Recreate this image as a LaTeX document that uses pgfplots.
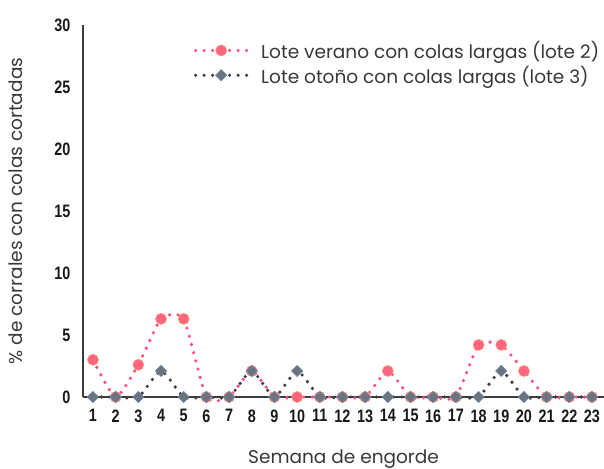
\documentclass[border=0pt]{standalone}
\usepackage{pgfplots}
\pgfplotsset{compat=1.18}
\usepackage{fontspec}
\setmainfont{Poppins}
\newfontfamily\tickfont[FakeStretch=0.8]{Liberation Sans}
\definecolor{pinkl}{HTML}{FF4F7B}
\definecolor{pinkm}{HTML}{FF6480}
\definecolor{pinke}{HTML}{F59A6A}
\definecolor{grayl}{HTML}{404040}
\definecolor{graym}{HTML}{6E747C}
\definecolor{graye}{HTML}{5A86C0}
\definecolor{axc}{HTML}{3C3C3C}
\begin{document}
\begin{tikzpicture}
\useasboundingbox (-83pt,-71pt) rectangle (521pt,397pt);
\begin{axis}[
  scale only axis,
  width=521pt, height=372pt,
  xmin=0.56, xmax=23.53,
  ymin=0, ymax=30,
  axis x line*=bottom, axis y line*=left,
  axis line style={axc, line width=1.6pt, -},
  xtick={1,...,23}, ytick={0,5,...,30},
  major tick length=0pt,
  tick label style={font=\tickfont\bfseries\fontsize{18}{18}\selectfont, text=black!90},
  /pgf/number format/assume math mode=true,
  yticklabel style={xshift=-9pt},
  xticklabel style={yshift=-9pt},
  xlabel={Semana de engorde},
  ylabel={\% de corrales con colas cortadas},
  label style={font=\fontsize{18.5}{19}\selectfont, text=black!78},
  xlabel style={at={(axis description cs:0.5,0)}, anchor=base, yshift=-66pt},
  ylabel style={at={(axis description cs:0,0.5)}, anchor=base, xshift=0pt, yshift=60pt},
  legend style={draw=none, fill=none, at={(0.993,0.96)}, anchor=north east,
    font=\fontsize{18.5}{19}\selectfont, text=black!78, row sep=4pt, column sep=11pt,
    inner sep=0pt, nodes={inner sep=1pt}},
  legend cell align=left,
  legend image code/.code={
    \draw[#1, mark=none] (0cm,0cm) -- (1.82cm,0cm);
    \draw[#1, dash pattern={}, only marks] plot coordinates {(0.9cm,0cm)};
  },
  clip=false,
]
\addplot[pinkl, line width=3.6pt, line cap=round, dash pattern=on 0pt off 8.5pt,
  smooth, tension=0.35,
  mark=*, mark size=5.5pt, mark options={solid, fill=pinkm, draw=pinke, line width=0.6pt}]
coordinates {
(1,3.0) (2,0) (3,2.6) (4,6.3) (5,6.3) (6,0) (7,0) (8,2.1) (9,0) (10,0) (11,0) (12,0)
(13,0) (14,2.1) (15,0) (16,0) (17,0) (18,4.2) (19,4.2) (20,2.1) (21,0) (22,0) (23,0)
};
\addlegendentry{Lote verano con colas largas (lote 2)}
\addplot[grayl, line width=3.6pt, line cap=round, dash pattern=on 0pt off 8.5pt,
  smooth, tension=0.35,
  mark=square*, mark size=4pt, mark options={solid, rotate=45, fill=graym, draw=graye, line width=0.5pt}]
coordinates {
(1,0) (2,0) (3,0) (4,2.1) (5,0) (6,0) (7,0) (8,2.1) (9,0) (10,2.1) (11,0) (12,0)
(13,0) (14,0) (15,0) (16,0) (17,0) (18,0) (19,2.1) (20,0) (21,0) (22,0) (23,0)
};
\addlegendentry{Lote otoño con colas largas (lote 3)}
\end{axis}
\end{tikzpicture}
\end{document}
